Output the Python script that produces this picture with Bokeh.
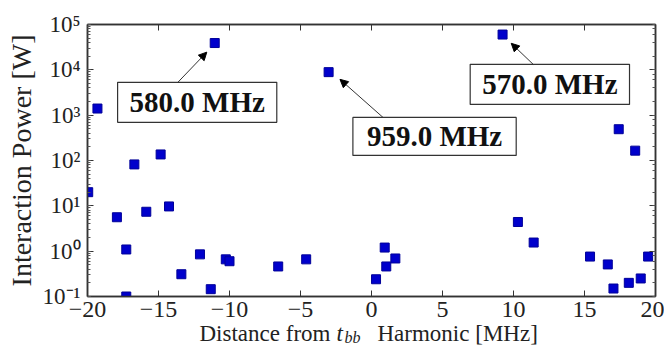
from bokeh.plotting import figure
from bokeh.layouts import column
from bokeh.models import (LogAxis, LinearAxis, Range1d, CustomJSTickFormatter, Label,
                          Arrow, NormalHead, FixedTicker)
from bokeh.core.properties import value
from bokeh.embed import file_html
from bokeh.resources import INLINE

# Data
offset_mhz = [-19.95, -19.3, -16.7, -14.85, -17.93, -15.86, -14.26, -17.27, -13.39, -17.27,
              -12.08, -11.32, -10.26, -10.0, -6.57, -4.6, 0.32, 0.93, 1.04, 1.68,
              10.31, 11.42, 15.39, 16.64, 17.04, 18.12, 18.96, 19.48,
              9.23, 17.41, 18.57, -11.04, -3.02]
power_w = [20, 1400, 82, 136, 5.6, 7.4, 9.7, 1.09, 0.31, 0.1,
           0.85, 0.145, 0.66, 0.60, 0.46, 0.66, 0.24, 1.2, 0.46, 0.69,
           4.4, 1.55, 0.76, 0.51, 0.15, 0.20, 0.25, 0.76,
           60000, 490, 165, 39000, 8900]

x_ticks = [-20, -15, -10, -5, 0, 5, 10, 15, 20]

ann_text = ["580.0 MHz", "959.0 MHz", "570.0 MHz"]
box_left = [-17.88, -1.31, 6.95]
box_right = [-6.67, 10.19, 18.17]
box_logy_bottom = [2.841, 2.113, 3.238]
box_logy_top = [3.724, 2.951, 4.121]
arrow_x0 = [-13.65, 0.81, 11.39]
arrow_logy0 = [3.72, 2.95, 4.12]
arrow_x1 = [-11.6, -2.22, 9.84]
arrow_logy1 = [4.39, 3.79, 4.585]

FONT = "Liberation Serif"
INK = "#222222"

p = figure(width=664, height=328, x_range=Range1d(-20, 20), y_range=Range1d(0.1, 1e5),
           y_axis_type="log", output_backend="svg", toolbar_location=None,
           min_border_left=87, min_border_right=9, min_border_top=24, min_border_bottom=32,
           background_fill_color="white", border_fill_color="white")
p.grid.visible = False
p.outline_line_color = "#333333"
p.outline_line_width = 1.5

# squares
p.scatter(offset_mhz, power_w, marker="square", size=9,
          fill_color="#0000CC", line_color="#000099", line_width=1)

# arrows
for i in range(3):
    p.add_layout(Arrow(end=NormalHead(size=8, fill_color="black", line_color="black"),
                       x_start=arrow_x0[i], y_start=10 ** arrow_logy0[i],
                       x_end=arrow_x1[i], y_end=10 ** arrow_logy1[i],
                       line_color="#333333", line_width=1))

# annotation boxes
p.quad(left=box_left, right=box_right,
       bottom=[10 ** v for v in box_logy_bottom], top=[10 ** v for v in box_logy_top],
       fill_color="white", line_color="#333333", line_width=1.2)
for i in range(3):
    cx = (box_left[i] + box_right[i]) / 2
    cy = 10 ** ((box_logy_bottom[i] + box_logy_top[i]) / 2)
    p.add_layout(Label(x=cx, y=cy, text=ann_text[i],
                       text_font=FONT, text_font_style="bold", text_font_size="29px",
                       text_color="#111111", text_align="center", text_baseline="middle"))

# axes styling
ytf = CustomJSTickFormatter(code="""
const e = Math.round(Math.log10(tick));
const m = {'-':'\\u207b','0':'\\u2070','1':'\\u00b9','2':'\\u00b2','3':'\\u00b3','4':'\\u2074','5':'\\u2075'};
return '10' + String(e).split('').map(c => m[c]).join('');
""")
xtf = CustomJSTickFormatter(code="""
return tick < 0 ? '\\u2212' + Math.abs(tick) : String(tick);
""")
blank = CustomJSTickFormatter(code="return '';")

for ax in p.xaxis:
    ax.ticker = FixedTicker(ticks=x_ticks)
    ax.formatter = xtf
    ax.minor_tick_line_color = None
    ax.major_tick_in = 6
    ax.major_tick_out = 0
    ax.major_label_standoff = 5
    ax.major_label_text_font = FONT
    ax.major_label_text_font_size = "24px"
    ax.major_label_text_color = INK
    ax.axis_line_color = "#333333"
    ax.axis_line_width = 1.5
    ax.major_tick_line_color = "#333333"

for ax in p.yaxis:
    ax.formatter = ytf
    ax.major_tick_in = 6
    ax.major_tick_out = 0
    ax.minor_tick_in = 3
    ax.minor_tick_out = 0
    ax.major_label_standoff = 7
    ax.major_label_text_font = FONT
    ax.major_label_text_font_size = "23px"
    ax.major_label_text_color = INK
    ax.axis_line_color = "#333333"
    ax.axis_line_width = 1.5
    ax.major_tick_line_color = "#333333"
    ax.minor_tick_line_color = "#555555"
    ax.axis_label = "Interaction Power [W]"
    ax.axis_label_text_font = FONT
    ax.axis_label_text_font_style = "normal"
    ax.axis_label_text_font_size = "28px"
    ax.axis_label_text_color = INK
    ax.axis_label_standoff = 3

top = LinearAxis(ticker=FixedTicker(ticks=x_ticks), formatter=blank,
                 major_tick_in=6, major_tick_out=0, minor_tick_line_color=None,
                 axis_line_color="#333333", axis_line_width=1.5, major_tick_line_color="#333333")
p.add_layout(top, "above")
right = LogAxis(formatter=blank, major_tick_in=6, major_tick_out=0,
                minor_tick_in=3, minor_tick_out=0, axis_line_color="#333333", axis_line_width=1.5,
                major_tick_line_color="#333333", minor_tick_line_color="#555555")
p.add_layout(right, "right")

# x-axis title strip (italic t with subscript bb); its frame is aligned with the main frame,
# so its x range is expressed in page pixels from 87 to 655
lab = figure(width=664, height=32, x_range=Range1d(87, 655), y_range=Range1d(0, 32),
             output_backend="svg", toolbar_location=None, min_border=0,
             min_border_left=87, min_border_right=9,
             x_axis_location=None, y_axis_location=None, outline_line_color=None,
             background_fill_alpha=0, border_fill_alpha=0, margin=(-14, 0, 0, 0))
lab.grid.visible = False
lab.text(x=[199], y=[13], text=["Distance from"], text_font=value(FONT), text_font_size="23px",
         text_color=INK, text_baseline="alphabetic", text_align="left")
lab.text(x=[336], y=[13], text=["t"], text_font=value(FONT), text_font_style="italic",
         text_font_size="23px", text_color=INK, text_baseline="alphabetic", text_align="left")
lab.text(x=[344], y=[9], text=["bb"], text_font=value(FONT), text_font_style="italic",
         text_font_size="16px", text_color=INK, text_baseline="alphabetic", text_align="left")
lab.text(x=[377], y=[13], text=["Harmonic [MHz]"], text_font=value(FONT), text_font_size="23px",
         text_color=INK, text_baseline="alphabetic", text_align="left")

open("out.html", "w").write(file_html(column(p, lab, spacing=0), INLINE))
